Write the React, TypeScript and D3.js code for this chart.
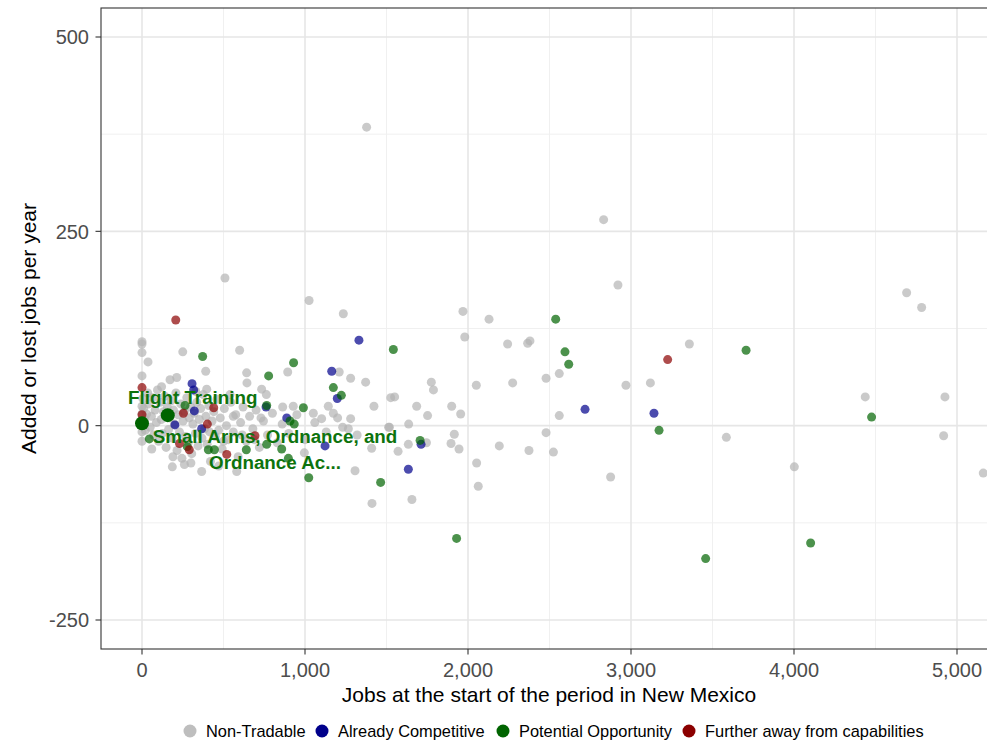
import React from "react";
import * as d3 from "d3";

type P = [number, number];

const nonTradable: P[] = [
  [1378, 384], [509, 190], [1025, 161], [1235, 144], [1969, 147], [2129, 137], [1980, 114],
  [2366, 106], [2380, 109], [2832, 265], [2920, 181], [4691, 171], [4783, 152], [2243, 105],
  [3358, 105], [1775, 56], [1788, 46], [2051, 52], [2274, 55], [2479, 61], [2560, 67],
  [2969, 52], [3119, 55], [1526, 36], [1550, 37], [1685, 25], [1752, 13], [1900, 25],
  [1955, 15], [2560, 13], [3585, -15], [1518, -2], [1636, 2], [1745, -22], [1634, -24],
  [1571, -33], [1916, -11], [1896, -23], [1945, -30], [2479, -9], [2192, -26], [2374, -32],
  [2524, -34], [2053, -48], [2063, -78], [1656, -95], [2875, -66], [4437, 37], [4926, 37],
  [4918, -13], [4002, -53], [5161, -61], [0, 108], [0, 105], [0, 94], [37, 82], [250, 95],
  [599, 97], [391, 70], [642, 68], [894, 69], [1210, 69], [1280, 61], [1372, 56], [0, 64],
  [172, 59], [213, 62], [397, 47], [734, 47], [763, 40], [863, 24], [928, 25], [1051, 16],
  [1102, 9], [1143, 25], [1174, 16], [1280, 9], [1423, 25], [1513, -2], [1231, -2],
  [1266, -4], [1409, -29], [1307, -58], [996, -35], [366, -59], [186, -53], [581, -59],
  [1411, -100], [0, 25], [0, 15], [0, -8], [0, -20],
  [5, 35], [10, 22], [15, 8], [20, -6], [28, 15], [35, 42], [42, 28], [50, -2], [58, 12],
  [65, 36], [72, -12], [80, 20], [88, 4], [95, 46], [102, -20], [110, 30], [118, 8],
  [125, -10], [132, 18], [140, 38], [148, -28], [155, 24], [163, -5], [170, 10], [178, 32],
  [185, -16], [193, 20], [200, 2], [208, 42], [215, -32], [222, 14], [230, -8], [238, 28],
  [245, -42], [252, 6], [260, 18], [268, -14], [275, 36], [283, -22], [290, 10], [298, 24],
  [305, -36], [312, 2], [320, 16], [328, -10], [336, 30], [344, -26], [352, 8], [360, 22],
  [368, -16], [376, 40], [384, -4], [392, 12], [400, -24], [410, 26], [420, -46], [430, 6],
  [440, 18], [450, -14], [460, 34], [470, -6], [480, 10], [492, -30], [505, 22], [518, 0],
  [530, -18], [545, 30], [560, -8], [575, 14], [590, -40], [605, 4], [620, 24], [640, -20],
  [660, 12], [680, -4], [700, 20], [720, -28], [745, 6], [770, -12], [800, 16], [830, -22],
  [860, 2], [900, -10], [950, 14], [1000, -18], [1060, 4], [1130, -8], [1200, 10],
  [1320, -12], [644, 55], [470, -52], [300, -48], [540, 40], [60, -30], [120, 50],
  [190, -40], [260, -50], [330, 44], [415, -8], [500, -20], [560, 12], [615, -12],
  [690, -18], [730, 10],
];

const alreadyCompetitive: P[] = [
  [1331, 110], [2718, 21], [3141, 16], [1634, -56], [1712, -24], [1164, 70], [1198, 35],
  [307, 54], [317, 46], [321, 19], [888, 10], [1123, -26], [761, 24], [366, -4], [202, 1],
];

const potentialOpportunity: P[] = [
  [2538, 137], [1542, 98], [2595, 95], [2618, 79], [3706, 97], [3172, -6], [1706, -19],
  [1464, -73], [1930, -145], [4476, 11], [4102, -151], [3458, -171], [372, 89], [930, 81],
  [777, 64], [1174, 49], [1223, 39], [990, 23], [908, 6], [934, 2], [1023, -67], [857, -30],
  [765, -24], [640, -31], [278, -27], [407, -31], [444, -31], [45, -17], [264, 26], [898, -42],
  [765, 26],
];

const furtherAway: P[] = [
  [207, 136], [3225, 85], [0, 49], [440, 23], [401, 2], [693, -13], [520, -37], [230, -23],
  [290, -31], [0, 14], [254, 16],
];

const highlighted: P[] = [[0, 3], [158, 13.5]];
const highlightLabels: string[][] = [["Small Arms, Ordnance, and", "Ordnance Ac..."], ["Flight Training"]];

const xTicks = [0, 1000, 2000, 3000, 4000, 5000];
const xMinor = [500, 1500, 2500, 3500, 4500];
const yTicks = [-250, 0, 250, 500];
const yMinor = [-125, 125, 375];

const legendNames = ["Non-Tradable", "Already Competitive", "Potential Opportunity", "Further away from capabilities"];
const legendColors = ["#bebebe", "#00008b", "#006400", "#8b0000"];

export default function App() {
  const W = 987, H = 745;
  const pL = 101, pT = 8, pR = 1000, pB = 649;
  const x = d3.scaleLinear().domain([0, 5000]).range([142, 957]);
  const y = d3.scaleLinear().domain([-250, 500]).range([620, 37]);
  const fmt = d3.format(",");
  const font = "'Liberation Sans', Arial, Helvetica, sans-serif";

  const series: { data: P[]; color: string }[] = [
    { data: nonTradable, color: "#b3b3b3" },
    { data: alreadyCompetitive, color: "#00008b" },
    { data: potentialOpportunity, color: "#006400" },
    { data: furtherAway, color: "#8b0000" },
  ];

  const labelOffsets = [
    { dx: 133, dy: [20, 46] },
    { dx: 25, dy: [-11] },
  ];

  const legendX = [190, 322, 503, 689];

  return (
    <svg width={W} height={H} style={{ position: "absolute", left: 0, top: 0, background: "#fff" }} fontFamily={font}>
      <defs>
        <clipPath id="panel">
          <rect x={pL} y={pT} width={pR - pL} height={pB - pT} />
        </clipPath>
      </defs>
      <rect x={0} y={0} width={W} height={H} fill="#fff" />
      <g clipPath="url(#panel)">
        {xMinor.map((t) => (
          <line key={"xm" + t} x1={x(t)} x2={x(t)} y1={pT} y2={pB} stroke="#f0f0f0" strokeWidth={1} />
        ))}
        {yMinor.map((t) => (
          <line key={"ym" + t} x1={pL} x2={pR} y1={y(t)} y2={y(t)} stroke="#f0f0f0" strokeWidth={1} />
        ))}
        {xTicks.map((t) => (
          <line key={"xg" + t} x1={x(t)} x2={x(t)} y1={pT} y2={pB} stroke="#e6e6e6" strokeWidth={1.6} />
        ))}
        {yTicks.map((t) => (
          <line key={"yg" + t} x1={pL} x2={pR} y1={y(t)} y2={y(t)} stroke="#e6e6e6" strokeWidth={1.6} />
        ))}
        {series.map((s, i) => (
          <g key={"s" + i} fill={s.color} fillOpacity={0.7}>
            {s.data.map((d, j) => (
              <circle key={j} cx={x(d[0])} cy={y(d[1])} r={4.5} />
            ))}
          </g>
        ))}
        {highlighted.map((d, i) => (
          <circle key={"h" + i} cx={x(d[0])} cy={y(d[1])} r={7} fill="#006400" />
        ))}
        {highlighted.map((d, i) =>
          highlightLabels[i].map((line, k) => (
            <text
              key={"hl" + i + k}
              x={x(d[0]) + labelOffsets[i].dx}
              y={y(d[1]) + labelOffsets[i].dy[k]}
              textAnchor="middle"
              fontWeight="bold"
              fontSize={18.8}
              fill="#0d730d"
            >
              {line}
            </text>
          ))
        )}
      </g>
      <rect x={pL} y={pT} width={pR - pL} height={pB - pT} fill="none" stroke="#333" strokeWidth={1.1} />
      {xTicks.map((t) => (
        <g key={"xt" + t}>
          <line x1={x(t)} x2={x(t)} y1={pB} y2={pB + 5.5} stroke="#333" strokeWidth={1.1} />
          <text x={x(t)} y={677} textAnchor="middle" fontSize={20} fill="#4d4d4d">
            {fmt(t)}
          </text>
        </g>
      ))}
      {yTicks.map((t) => (
        <g key={"yt" + t}>
          <line x1={pL - 5.5} x2={pL} y1={y(t)} y2={y(t)} stroke="#333" strokeWidth={1.1} />
          <text x={89} y={y(t)} dy="0.36em" textAnchor="end" fontSize={20} fill="#4d4d4d">
            {t}
          </text>
        </g>
      ))}
      <text x={(pL + 997) / 2} y={702} textAnchor="middle" fontSize={21} fill="#000">
        Jobs at the start of the period in New Mexico
      </text>
      <text transform={`translate(36, ${(pT + pB) / 2}) rotate(-90)`} textAnchor="middle" fontSize={21} fill="#000">
        Added or lost jobs per year
      </text>
      {legendNames.map((n, i) => (
        <g key={"lg" + i}>
          <circle cx={legendX[i]} cy={731} r={6.5} fill={legendColors[i]} />
          <text x={legendX[i] + 16} y={731} dy="0.36em" fontSize={16.4} fill="#000">
            {n}
          </text>
        </g>
      ))}
    </svg>
  );
}
